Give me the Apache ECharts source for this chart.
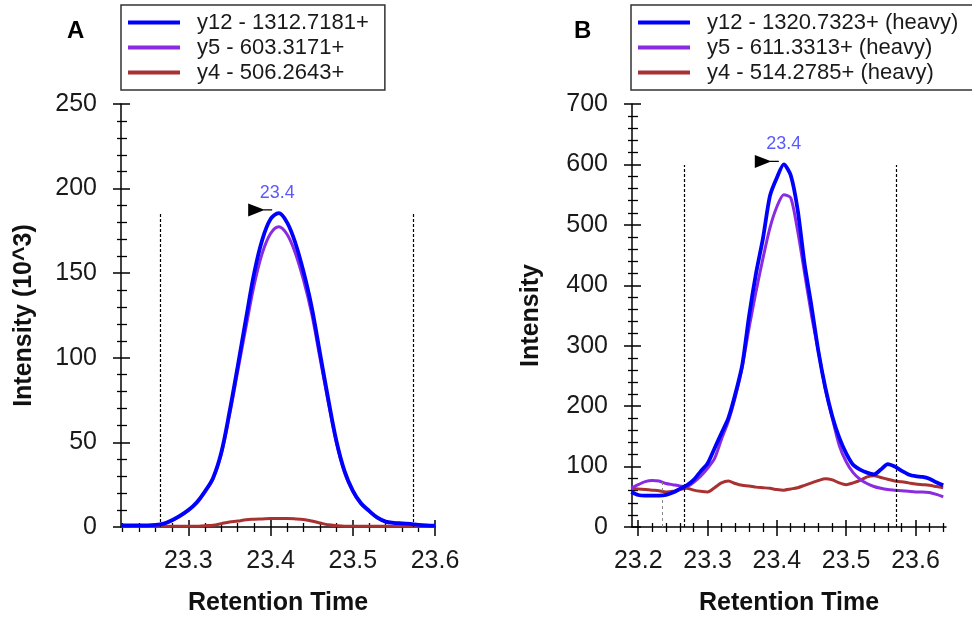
<!DOCTYPE html>
<html>
<head>
<meta charset="utf-8">
<script src="https://cdn.jsdelivr.net/npm/echarts@6/dist/echarts.min.js"></script>
<style>
html,body{margin:0;padding:0;background:#fff;}
#chart{width:972px;height:621px;}
</style>
</head>
<body>
<div id="chart"></div>
<script>
// ---------- Panel A data ----------
const timesA = [23.218, 23.23, 23.24, 23.25, 23.26, 23.27, 23.28, 23.29, 23.30, 23.31,
  23.32, 23.33, 23.34, 23.35, 23.36, 23.37, 23.38, 23.39, 23.40, 23.41,
  23.42, 23.43, 23.44, 23.45, 23.46, 23.47, 23.48, 23.49, 23.50, 23.51,
  23.52, 23.53, 23.54, 23.55, 23.56, 23.57, 23.58, 23.59, 23.60];
const y12A = [1.0, 1.0, 1.0, 1.0, 1.2, 2.0, 4.0, 6.7, 10, 14.5,
  21, 29, 44, 68, 95, 123, 150, 170, 182, 185.5,
  180, 168, 151, 130, 103, 76, 51, 33, 21.5, 14,
  9.5, 5.5, 3.2, 2.5, 2.2, 1.8, 1.3, 1.0, 0.8];
const y5A = [0.9, 0.9, 0.9, 0.9, 1.1, 1.9, 3.8, 6.4, 9.7, 14,
  20.5, 28.5, 43, 66, 92, 118, 143, 162, 173.5, 177.5,
  173, 162, 146, 126, 100, 74, 50, 32, 21, 13.5,
  9.2, 5.3, 3.1, 2.4, 2.1, 1.7, 1.2, 0.9, 0.7];
const y4A = [0.4, 0.4, 0.4, 0.4, 0.4, 0.4, 0.4, 0.4, 0.4, 0.5,
  0.8, 1.0, 2.0, 3.0, 3.5, 4.3, 4.6, 4.8, 5.0, 5.0,
  5.0, 4.8, 4.4, 3.5, 2.4, 1.3, 0.8, 0.5, 0.5, 0.5,
  0.4, 0.4, 0.4, 0.4, 0.4, 0.4, 0.4, 0.4, 0.4];
const namesA = ['y12 - 1312.7181+', 'y5 - 603.3171+', 'y4 - 506.2643+'];
const majorTicksA = [23.3, 23.4, 23.5, 23.6];
const minorTicksA = [23.22, 23.24, 23.26, 23.28, 23.32, 23.34, 23.36, 23.38,
  23.42, 23.44, 23.46, 23.48, 23.52, 23.54, 23.56, 23.58];
const boundariesA = [23.266, 23.573];
const boundaryTopA = 185.6;
const peakA = [23.408, 185.6];
const peakLabelA = '23.4';

// ---------- Panel B data ----------
const timesB = [23.19, 23.20, 23.21, 23.22, 23.23, 23.24, 23.25, 23.26, 23.27, 23.28,
  23.29, 23.30, 23.31, 23.32, 23.33, 23.34, 23.35, 23.36, 23.37, 23.38,
  23.39, 23.40, 23.41, 23.42, 23.43, 23.44, 23.45, 23.46, 23.47, 23.48,
  23.49, 23.50, 23.51, 23.52, 23.53, 23.54, 23.55, 23.56, 23.57, 23.58,
  23.59, 23.60, 23.61, 23.62, 23.63, 23.64];
const y12B = [58, 53, 52, 52, 52, 53, 57, 63, 69, 78,
  92, 105, 130, 155, 180, 220, 268, 350, 420, 478,
  548, 578, 600, 582, 525, 435, 365, 290, 230, 183,
  148, 122, 103, 95, 90, 87, 95, 104, 100, 93,
  87, 84, 83, 80, 74, 69];
const y5B = [64, 70, 75, 77, 76, 72, 70, 68, 67, 74,
  84, 97, 113, 145, 175, 215, 265, 330, 390, 445,
  495, 530, 550, 545, 490, 420, 350, 290, 228, 180,
  135, 108, 90, 79, 72, 67, 64, 62, 61, 60,
  59, 58, 58, 57, 54, 50];
const y4B = [64, 63, 62, 61, 60, 58, 59, 62, 64, 61,
  59, 58, 65, 73, 76, 72, 69, 68, 66, 65,
  64, 62, 61, 63, 65, 69, 73, 77, 80, 78,
  73, 70, 73, 77, 83, 85, 82, 79, 76, 75,
  73, 71, 70, 69, 67, 65];
const namesB = ['y12 - 1320.7323+ (heavy)', 'y5 - 611.3313+ (heavy)', 'y4 - 514.2785+ (heavy)'];
const majorTicksB = [23.2, 23.3, 23.4, 23.5, 23.6];
const minorTicksB = [23.22, 23.24, 23.26, 23.28, 23.32, 23.34, 23.36, 23.38,
  23.42, 23.44, 23.46, 23.48, 23.52, 23.54, 23.56, 23.58, 23.62, 23.64];
const boundariesB = [23.267, 23.572];
const boundaryTopB = 599;
const greyMarkB = [23.234, 76];
const peakB = [23.41, 600];
const peakLabelB = '23.4';

// ---------- styling ----------
const FONT = 'Liberation Sans, Arial, sans-serif';
const colors = ['#0000FF', '#8A2BE2', '#A83232'];
const arrowPath = 'path://M0,0 L0,13 L15,7 L24,7 L24,5.8 L15,5.8 Z';

const chart = echarts.init(document.getElementById('chart'), null, {renderer: 'canvas'});

function xAxesFor(gridIndex, min, max, majors, minors) {
  const base = {type: 'value', gridIndex, min, max, splitLine: {show: false}, scale: true};
  return [
    Object.assign({}, base, {
      position: 'bottom',
      axisLine: {show: true, onZero: false, lineStyle: {color: '#000', width: 1.5}},
      axisTick: {show: true, customValues: majors, length: 9, lineStyle: {color: '#000', width: 1.5}},
      axisLabel: {show: true, customValues: majors, formatter: v => v.toFixed(1),
        fontSize: 25, color: '#1a1a1a', fontFamily: FONT, margin: 22},
      name: 'Retention Time', nameLocation: 'middle', nameGap: 64,
      nameTextStyle: {fontSize: 25, fontWeight: 'bold', color: '#111', fontFamily: FONT}
    }),
    Object.assign({}, base, {
      position: 'bottom',
      axisLine: {show: false, onZero: false},
      axisTick: {show: true, inside: true, customValues: majors, length: 7, lineStyle: {color: '#000', width: 1.5}},
      axisLabel: {show: false}
    }),
    Object.assign({}, base, {
      position: 'bottom',
      axisLine: {show: false, onZero: false},
      axisTick: {show: true, customValues: minors, length: 5, lineStyle: {color: '#000', width: 1.3}},
      axisLabel: {show: false}
    }),
    Object.assign({}, base, {
      position: 'bottom',
      axisLine: {show: false, onZero: false},
      axisTick: {show: true, inside: true, customValues: minors, length: 4, lineStyle: {color: '#000', width: 1.3}},
      axisLabel: {show: false}
    })
  ];
}

function yAxesFor(gridIndex, max, interval, name, nameGap) {
  const base = {type: 'value', gridIndex, min: 0, max, interval, splitLine: {show: false}, position: 'left'};
  return [
    Object.assign({}, base, {
      axisLine: {show: true, onZero: false, lineStyle: {color: '#000', width: 1.5}},
      axisTick: {show: true, length: 8, lineStyle: {color: '#000', width: 1.5}},
      minorTick: {show: true, splitNumber: 5, length: 4, lineStyle: {color: '#000', width: 1.3}},
      axisLabel: {show: true, fontSize: 25, color: '#1a1a1a', fontFamily: FONT, margin: 24},
      name, nameLocation: 'middle', nameGap,
      nameTextStyle: {fontSize: 25, fontWeight: 'bold', color: '#111', fontFamily: FONT}
    }),
    Object.assign({}, base, {
      axisLine: {show: false, onZero: false},
      axisTick: {show: true, inside: true, length: 9, lineStyle: {color: '#000', width: 1.5}},
      minorTick: {show: true, splitNumber: 5, length: 6, lineStyle: {color: '#000', width: 1.3}},
      axisLabel: {show: false}
    })
  ];
}

function lineSeries(name, times, vals, color, width, xi, yi, z, smooth) {
  return {
    type: 'line', name, xAxisIndex: xi, yAxisIndex: yi, z,
    data: times.map((t, i) => [t, vals[i]]),
    showSymbol: false, symbol: 'none', smooth,
    lineStyle: {color, width}, itemStyle: {color},
    animation: false
  };
}

function boundaryMarks(bounds, top, extra) {
  const data = bounds.map(x => [{coord: [x, 0]}, {coord: [x, top]}]);
  return {
    silent: true, symbol: 'none', animation: false,
    label: {show: false},
    lineStyle: {color: '#000', width: 1.2, type: [3, 2]},
    emphasis: {disabled: true},
    data: data.concat(extra || [])
  };
}

function peakSeries(peak, label, xi, yi) {
  return [
    {
      type: 'scatter', xAxisIndex: xi, yAxisIndex: yi, z: 10, silent: true,
      data: [peak], symbol: arrowPath, symbolSize: [24, 13], symbolOffset: [-17, -3],
      itemStyle: {color: '#000', opacity: 1}, animation: false
    },
    {
      type: 'scatter', xAxisIndex: xi, yAxisIndex: yi, z: 11, silent: true,
      data: [peak], symbol: 'circle', symbolSize: 2,
      itemStyle: {color: 'rgba(0,0,0,0)'}, animation: false,
      label: {show: true, position: 'top', distance: 10, formatter: label,
        fontSize: 18, color: '#2f2fff', fontFamily: FONT}
    }
  ];
}

const blueA = lineSeries(namesA[0], timesA, y12A, colors[0], 3.8, 0, 0, 5, 0.35);
blueA.markLine = boundaryMarks(boundariesA, boundaryTopA);
const blueB = lineSeries(namesB[0], timesB, y12B, colors[0], 3.8, 4, 2, 5, 0.25);
blueB.markLine = boundaryMarks(boundariesB, boundaryTopB, [[
  {coord: [greyMarkB[0], 0], lineStyle: {color: '#888', width: 1, type: [3, 3]}},
  {coord: [greyMarkB[0], greyMarkB[1]]}
]]);

const legendCommon = {
  orient: 'vertical', top: 5, icon: 'rect', itemWidth: 52, itemHeight: 4, itemGap: 0,
  borderColor: '#333', borderWidth: 1.5, backgroundColor: '#fff',
  padding: [5, 16, 5, 7], selectedMode: false,
  textStyle: {fontSize: 22, lineHeight: 25, color: '#1a1a1a', fontFamily: FONT, padding: [0, 0, 0, 12]}
};

const option = {
  backgroundColor: '#fff',
  animation: false,
  grid: [
    {left: 121, top: 104, width: 314, height: 424, containLabel: false},
    {left: 632, top: 104, width: 314, height: 424, containLabel: false}
  ],
  legend: [
    Object.assign({}, legendCommon, {left: 121, data: namesA}),
    Object.assign({}, legendCommon, {left: 631, data: namesB})
  ],
  xAxis: xAxesFor(0, 23.218, 23.6, majorTicksA, minorTicksA)
    .concat(xAxesFor(1, 23.191, 23.644, majorTicksB, minorTicksB)),
  yAxis: yAxesFor(0, 250, 50, 'Intensity (10^3)', 84)
    .concat(yAxesFor(1, 700, 100, 'Intensity', 88)),
  graphic: [
    {type: 'text', left: 67, top: 19, style: {text: 'A', fontSize: 24, fontWeight: 'bold', fill: '#000', fontFamily: FONT}},
    {type: 'text', left: 574, top: 19, style: {text: 'B', fontSize: 24, fontWeight: 'bold', fill: '#000', fontFamily: FONT}}
  ],
  series: [
    lineSeries(namesA[2], timesA, y4A, colors[2], 3, 0, 0, 3, 0.35),
    lineSeries(namesA[1], timesA, y5A, colors[1], 3, 0, 0, 4, 0.35),
    blueA,
    ...peakSeries(peakA, peakLabelA, 0, 0),
    lineSeries(namesB[2], timesB, y4B, colors[2], 3, 4, 2, 3, 0.25),
    lineSeries(namesB[1], timesB, y5B, colors[1], 3, 4, 2, 4, 0.25),
    blueB,
    ...peakSeries(peakB, peakLabelB, 4, 2)
  ]
};
chart.setOption(option);
</script>
</body>
</html>
